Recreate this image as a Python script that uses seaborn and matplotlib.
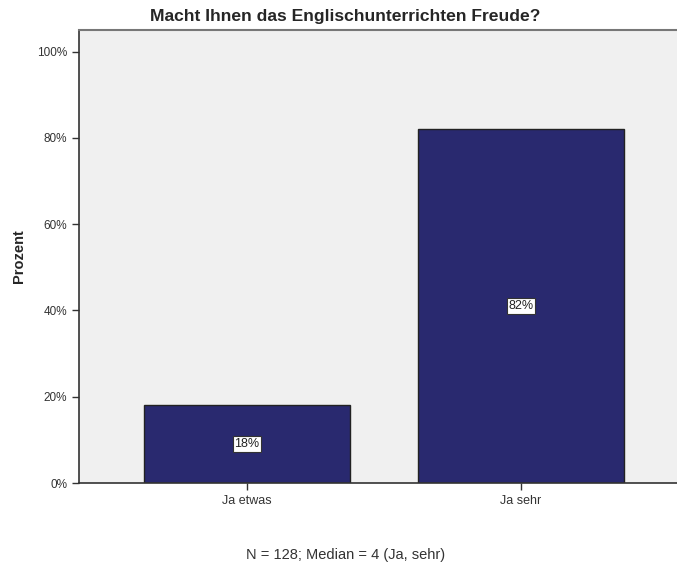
import pandas as pd
import matplotlib.pyplot as plt
import seaborn as sns

# Survey answers (percent of respondents)
categories = ["Ja etwas", "Ja sehr"]
percent = [18, 82]
bar_labels = ["18%", "82%"]

df = pd.DataFrame({"antwort": categories, "prozent": percent})

sns.set_style("white")
plt.rcParams["font.family"] = ["Liberation Sans", "DejaVu Sans"]

fig = plt.figure(figsize=(6.77, 5.66), dpi=100)
ax = fig.add_axes([0.1167, 0.1466, 0.8833, 0.8004])
ax.set_facecolor("#f0f0f0")

sns.barplot(data=df, x="antwort", y="prozent", color="#29296f", width=0.75,
            edgecolor="#222222", linewidth=1, saturation=1, ax=ax)

# value labels in the middle of each bar
for i, (val, lab) in enumerate(zip(percent, bar_labels)):
    ax.text(i, val / 2, lab, ha="center", va="center", fontsize=9, color="#222222",
            bbox=dict(boxstyle="square,pad=0.15", facecolor="white", edgecolor="#333333", linewidth=0.8))

ax.set_xlim(-0.613, 1.569)
ax.set_ylim(0, 105)
ax.set_yticks([0, 20, 40, 60, 80, 100])
ax.set_yticklabels(["0%", "20%", "40%", "60%", "80%", "100%"])
ax.tick_params(axis="y", labelsize=8.5, colors="#333333", length=5, width=1, direction="out", left=True)
ax.tick_params(axis="x", labelsize=9, colors="#333333", length=5, width=1, direction="out", bottom=True)

for side in ["left", "bottom"]:
    ax.spines[side].set_color("#333333")
    ax.spines[side].set_linewidth(1.2)
ax.spines["top"].set_color("#777777")
ax.spines["top"].set_linewidth(1.5)
ax.spines["right"].set_visible(False)

ax.set_xlabel("")
ax.set_ylabel("Prozent", fontsize=10.5, fontweight="bold", labelpad=8)
fig.text(0.51, 0.97, "Macht Ihnen das Englischunterrichten Freude?", ha="center", va="center",
         fontsize=12.6, fontweight="bold")
fig.text(0.51, 0.02, "N = 128; Median = 4 (Ja, sehr)", ha="center", va="center",
         fontsize=10.5, color="#333333")

plt.savefig("out.png", dpi=100)
